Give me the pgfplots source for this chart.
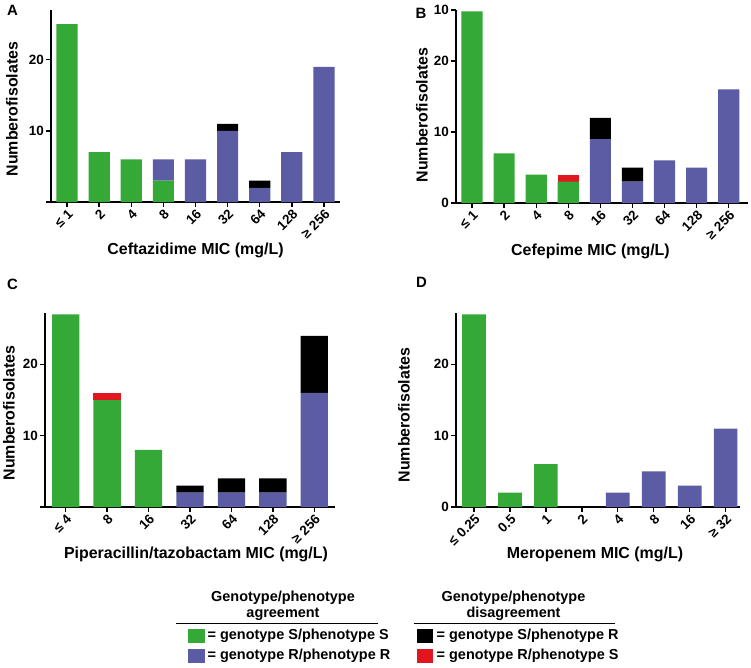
\documentclass[border=0pt]{standalone}
\usepackage{pgfplots}
\pgfplotsset{compat=1.18}
\usepackage{fontspec}
\setmainfont{Liberation Sans}
\definecolor{cg}{RGB}{52,169,55}
\definecolor{cb}{RGB}{92,92,164}
\definecolor{cr}{RGB}{226,22,30}
\newcommand{\tickfont}{\bfseries\fontsize{13.5}{13.5}\selectfont}
\newcommand{\labfont}{\bfseries\fontsize{16}{16}\selectfont}
\newcommand{\legfont}{\bfseries\fontsize{14.5}{14.5}\selectfont}
\pgfplotsset{
  mystyle/.style={
    scale only axis, ybar stacked, bar width=0.66,
    axis x line*=bottom, axis y line*=left,
    axis line style={-, line width=1.6bp},
    tick style={black, line width=1.4bp}, tick align=outside,
    major tick length=5bp,
    ymin=0,
    /pgf/number format/assume math mode=true,
    xticklabel style={rotate=45, anchor=north east, inner sep=1pt, font=\tickfont},
    yticklabel style={font=\tickfont, inner sep=2pt},
    xlabel style={font=\labfont, at={(axis description cs:0.5,0)}, anchor=center},
    ylabel style={font=\labfont, anchor=center},
    ylabel={Numberofisolates},
  },
}
\begin{document}
\begin{tikzpicture}
\useasboundingbox (0,0) rectangle (751bp,-668bp);
% Panel A
\begin{axis}[mystyle, at={(51bp,-202bp)}, anchor=south west,
  width=289bp, height=192bp, xmin=-0.5, xmax=8.5, ymax=27,
  xtick={0,...,8},
  xticklabels={≤ 1,2,4,8,16,32,64,128,≥ 256},
  ytick={0,10,20}, yticklabels={,10,20},
  xlabel={Ceftazidime MIC (mg/L)},
  xlabel style={yshift=-48bp},
  ylabel style={at={(axis description cs:-0.1349,0.4844)}}]
\addplot[fill=cg, draw=none] coordinates {(0,25) (1,7) (2,6) (3,3) (4,0) (5,0) (6,0) (7,0) (8,0)};
\addplot[fill=cb, draw=none] coordinates {(0,0) (1,0) (2,0) (3,3) (4,6) (5,10) (6,2) (7,7) (8,19)};
\addplot[fill=black, draw=none] coordinates {(0,0) (1,0) (2,0) (3,0) (4,0) (5,1) (6,1) (7,0) (8,0)};
\end{axis}
% Panel B
\begin{axis}[mystyle, at={(456bp,-203bp)}, anchor=south west,
  width=292bp, height=193bp, xmin=-0.5, xmax=8.6, ymax=27.2,
  xtick={0,...,8},
  xticklabels={≤ 1,2,4,8,16,32,64,128,≥ 256},
  ytick={0,10,20,27.2}, yticklabels={0,10,20,10},
  xlabel={Cefepime MIC (mg/L)},
  xlabel style={yshift=-48bp, xshift=-11.5bp},
  ylabel style={at={(axis description cs:-0.1164,0.456)}}]
\addplot[fill=cg, draw=none] coordinates {(0,27) (1,7) (2,4) (3,3) (4,0) (5,0) (6,0) (7,0) (8,0)};
\addplot[fill=cb, draw=none] coordinates {(0,0) (1,0) (2,0) (3,0) (4,9) (5,3) (6,6) (7,5) (8,16)};
\addplot[fill=black, draw=none] coordinates {(0,0) (1,0) (2,0) (3,0) (4,3) (5,2) (6,0) (7,0) (8,0)};
\addplot[fill=cr, draw=none] coordinates {(0,0) (1,0) (2,0) (3,1) (4,0) (5,0) (6,0) (7,0) (8,0)};
\end{axis}
% Panel C
\begin{axis}[mystyle, at={(45bp,-507bp)}, anchor=south west,
  width=290bp, height=194bp, xmin=-0.5, xmax=6.5, ymax=27.2,
  xtick={0,...,6},
  xticklabels={≤ 4,8,16,32,64,128,≥ 256},
  ytick={0,10,20}, yticklabels={,10,20},
  xlabel={Piperacillin/tazobactam MIC (mg/L)},
  xlabel style={yshift=-47.5bp, xshift=6bp},
  ylabel style={at={(axis description cs:-0.1241,0.4845)}}]
\addplot[fill=cg, draw=none] coordinates {(0,27) (1,15) (2,8) (3,0) (4,0) (5,0) (6,0)};
\addplot[fill=cb, draw=none] coordinates {(0,0) (1,0) (2,0) (3,2) (4,2) (5,2) (6,16)};
\addplot[fill=black, draw=none] coordinates {(0,0) (1,0) (2,0) (3,1) (4,2) (5,2) (6,8)};
\addplot[fill=cr, draw=none] coordinates {(0,0) (1,1) (2,0) (3,0) (4,0) (5,0) (6,0)};
\end{axis}
% Panel D
\begin{axis}[mystyle, at={(456bp,-507bp)}, anchor=south west,
  width=284bp, height=194bp, xmin=-0.5, xmax=7.4, ymax=27.2,
  xtick={0,...,7},
  xticklabels={≤ 0.25,0.5,1,2,4,8,16,≥ 32},
  ytick={0,10,20}, yticklabels={0,10,20},
  xlabel={Meropenem MIC (mg/L)},
  xlabel style={yshift=-47.5bp, xshift=-3bp},
  ylabel style={at={(axis description cs:-0.1831,0.4742)}}]
\addplot[fill=cg, draw=none] coordinates {(0,27) (1,2) (2,6) (3,0) (4,0) (5,0) (6,0) (7,0)};
\addplot[fill=cb, draw=none] coordinates {(0,0) (1,0) (2,0) (3,0) (4,2) (5,5) (6,3) (7,11)};
\end{axis}
% panel letters
\node[font=\bfseries\fontsize{15}{15}\selectfont] at (12.5bp,-10bp) {A};
\node[font=\bfseries\fontsize{15}{15}\selectfont] at (421bp,-13bp) {B};
\node[font=\bfseries\fontsize{15}{15}\selectfont] at (12.5bp,-284bp) {C};
\node[font=\bfseries\fontsize{15}{15}\selectfont] at (421.5bp,-282bp) {D};
% legend
\node[font=\legfont, align=center, inner sep=0pt] at (283bp,-606bp) {Genotype/phenotype\\[2bp]agreement};
\draw[line width=1.5bp] (176bp,-623.5bp) -- (378bp,-623.5bp);
\fill[cg] (188bp,-628.5bp) rectangle (204.5bp,-642.5bp);
\node[font=\legfont, anchor=west, inner sep=0pt] at (207.5bp,-635.5bp) {= genotype S/phenotype S};
\fill[cb] (188bp,-648.5bp) rectangle (204.5bp,-663bp);
\node[font=\legfont, anchor=west, inner sep=0pt] at (207.5bp,-656bp) {= genotype R/phenotype R};
\node[font=\legfont, align=center, inner sep=0pt] at (513.5bp,-606bp) {Genotype/phenotype\\[2bp]disagreement};
\draw[line width=1.5bp] (413.5bp,-623.5bp) -- (615bp,-623.5bp);
\fill[black] (417bp,-628.5bp) rectangle (433bp,-642.5bp);
\node[font=\legfont, anchor=west, inner sep=0pt] at (436.5bp,-635.5bp) {= genotype S/phenotype R};
\fill[cr] (417bp,-648.5bp) rectangle (433bp,-663bp);
\node[font=\legfont, anchor=west, inner sep=0pt] at (436.5bp,-656bp) {= genotype R/phenotype S};
\end{tikzpicture}
\end{document}
